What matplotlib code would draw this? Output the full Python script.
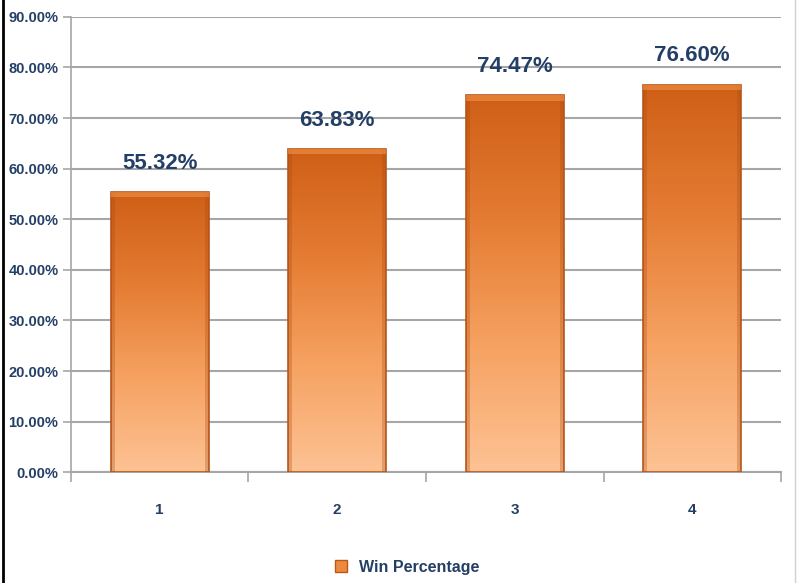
import numpy as np
import matplotlib
matplotlib.use("Agg")
import matplotlib.pyplot as plt
from matplotlib.colors import LinearSegmentedColormap
from matplotlib.patches import Rectangle
from matplotlib.lines import Line2D

plt.rcParams['font.family'] = ['Liberation Sans', 'DejaVu Sans']

# data
categories = ['1', '2', '3', '4']
win_pct = [55.32, 63.83, 74.47, 76.60]
series_name = 'Win Percentage'

text_col = '#243F66'
grid_col = '#A6A6A6'
bar_cmap = LinearSegmentedColormap.from_list(
    'bar', ['#FDC294', '#F6A262', '#E57C33', '#CF5F17'])

fig = plt.figure(figsize=(7.97, 5.83), dpi=100)
ax = fig.add_axes([0.089, 0.190, 0.891, 0.781])

x = np.arange(len(categories))
width = 0.55
ax.set_xlim(-0.5, len(categories) - 0.5)
ax.set_ylim(0, 90)

grad = np.linspace(0, 1, 256).reshape(-1, 1)
for xi, v in zip(x, win_pct):
    x0, x1 = xi - width / 2, xi + width / 2
    im = ax.imshow(grad, cmap=bar_cmap, origin='lower', aspect='auto',
                   extent=[x0, x1, 0, v], zorder=3, interpolation='bicubic')
    rect = Rectangle((x0, 0), width, v, facecolor='none',
                     edgecolor='#B8581A', linewidth=1.2, zorder=4)
    ax.add_patch(rect)
    im.set_clip_path(rect)
    # side shading for a bevel look
    ax.add_patch(Rectangle((x0, 0), width * 0.04, v, facecolor='#A94A10',
                           alpha=0.3, linewidth=0, zorder=4))
    ax.add_patch(Rectangle((x1 - width * 0.04, 0), width * 0.04, v,
                           facecolor='#A94A10', alpha=0.3, linewidth=0, zorder=4))
    ax.add_patch(Rectangle((x0, v - 1.0), width, 1.0, facecolor='#F3944A',
                           alpha=0.6, linewidth=0, zorder=4))
    ax.text(xi, v + 3.6, f'{v:.2f}%', ha='center', va='bottom',
            fontsize=16, fontweight='bold', color=text_col, zorder=5)

ax.set_yticks(np.arange(0, 91, 10))
ax.set_yticklabels([f'{t:.2f}%' for t in np.arange(0, 91, 10)])
ax.yaxis.grid(True, color=grid_col, linewidth=1.5)
ax.set_axisbelow(True)

ax.set_xticks(x)
ax.set_xticklabels(categories)
ax.set_xticks(np.arange(-0.5, len(categories)), minor=True)
ax.tick_params(axis='x', which='major', length=0, pad=22)
ax.tick_params(axis='x', which='minor', length=7, color=grid_col, width=1.2)
ax.tick_params(axis='y', length=6, color=grid_col, width=1.2, pad=3)
for lab in ax.get_xticklabels() + ax.get_yticklabels():
    lab.set_fontweight('bold')
    lab.set_color(text_col)
    lab.set_fontsize(10.5)
for lab in ax.get_xticklabels():
    lab.set_fontsize(11)

for s in ['top', 'right']:
    ax.spines[s].set_visible(False)
ax.spines['left'].set_color(grid_col)
ax.spines['bottom'].set_color(grid_col)
ax.spines['left'].set_linewidth(1.2)
ax.spines['bottom'].set_linewidth(1.5)

handle = Line2D([], [], marker='s', linestyle='none', markersize=9,
                markerfacecolor='#EE8A3E', markeredgecolor='#B8581A')
fig.legend([handle], [series_name], loc='center', bbox_to_anchor=(0.505, 0.027),
           frameon=False, handletextpad=0.1,
           prop={'weight': 'bold', 'size': 11.5}, labelcolor=text_col)

# window border on the left
fig.add_artist(Line2D([0.004, 0.004], [0, 1], color='black', linewidth=2))
fig.add_artist(Line2D([0.997, 0.997], [0, 1], color='#D0D0D0', linewidth=1))

fig.savefig('out.png', dpi=100)
